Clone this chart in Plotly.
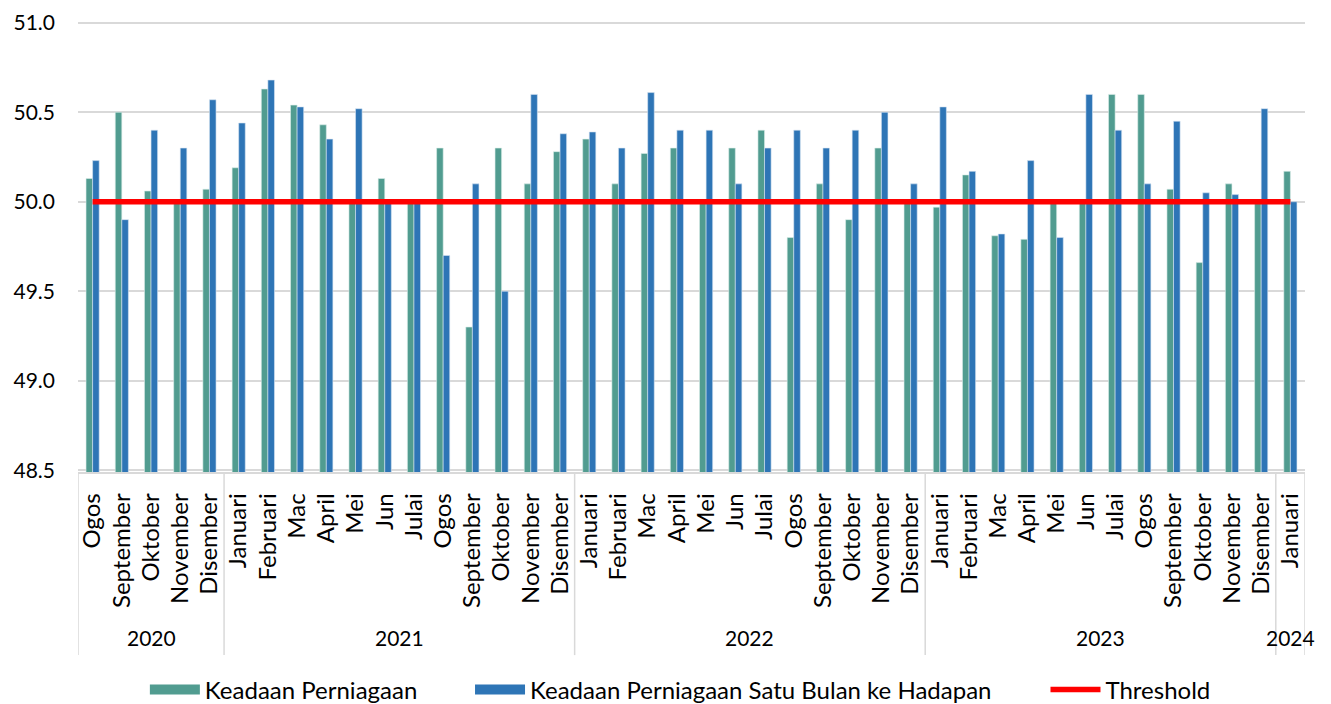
import plotly.graph_objects as go

years = (["2020"] * 5 + ["2021"] * 12 + ["2022"] * 12 + ["2023"] * 12 + ["2024"] * 1)
months = (
    ["Ogos", "September", "Oktober", "November", "Disember"]
    + ["Januari", "Februari", "Mac", "April", "Mei", "Jun", "Julai", "Ogos", "September", "Oktober", "November", "Disember"]
    + ["Januari", "Februari", "Mac", "April", "Mei", "Jun", "Julai", "Ogos", "September", "Oktober", "November", "Disember"]
    + ["Januari", "Februari", "Mac", "April", "Mei", "Jun", "Julai", "Ogos", "September", "Oktober", "November", "Disember"]
    + ["Januari"]
)

keadaan_perniagaan = [
    50.13, 50.50, 50.06, 50.00, 50.07,
    50.19, 50.63, 50.54, 50.43, 50.00, 50.13, 50.00, 50.30, 49.30, 50.30, 50.10, 50.28,
    50.35, 50.10, 50.27, 50.30, 50.00, 50.30, 50.40, 49.80, 50.10, 49.90, 50.30, 50.00,
    49.97, 50.15, 49.81, 49.79, 50.00, 50.00, 50.60, 50.60, 50.07, 49.66, 50.10, 50.00,
    50.17,
]
satu_bulan_hadapan = [
    50.23, 49.90, 50.40, 50.30, 50.57,
    50.44, 50.68, 50.53, 50.35, 50.52, 50.00, 50.00, 49.70, 50.10, 49.50, 50.60, 50.38,
    50.39, 50.30, 50.61, 50.40, 50.40, 50.10, 50.30, 50.40, 50.30, 50.40, 50.50, 50.10,
    50.53, 50.17, 49.82, 50.23, 49.80, 50.60, 50.40, 50.10, 50.45, 50.05, 50.04, 50.52,
    50.00,
]
threshold = [50.0] * len(months)

ytick_vals = [48.5, 49.0, 49.5, 50.0, 50.5, 51.0]

GREEN = "#519C90"
BLUE = "#2E75B6"
RED = "#FF0000"
GRID = "#d9d9d9"
FONT = "Lato"

n = len(months)
pos = list(range(n))

fig = go.Figure()
fig.add_trace(go.Bar(x=pos, y=keadaan_perniagaan, name="Keadaan Perniagaan", showlegend=False,
                     marker=dict(color=GREEN, line=dict(width=0.6, color="#dbeeea"))))
fig.add_trace(go.Bar(x=pos, y=satu_bulan_hadapan, name="Keadaan Perniagaan Satu Bulan ke Hadapan",
                     showlegend=False,
                     marker=dict(color=BLUE, line=dict(width=0.6, color="#d6e4f2"))))
fig.add_trace(go.Scatter(x=pos, y=threshold, name="Threshold", mode="lines", showlegend=False,
                         line=dict(color=RED, width=5.5)))

# legend entries with wide swatches, as in the reference
fig.add_trace(go.Scatter(x=[None], y=[None], mode="lines", name="Keadaan Perniagaan",
                         line=dict(color=GREEN, width=14), hoverinfo="skip", legend="legend"))
fig.add_trace(go.Scatter(x=[None], y=[None], mode="lines",
                         name="Keadaan Perniagaan Satu Bulan ke Hadapan",
                         line=dict(color=BLUE, width=14), hoverinfo="skip", legend="legend2"))
fig.add_trace(go.Scatter(x=[None], y=[None], mode="lines", name="Threshold",
                         line=dict(color=RED, width=5.5), hoverinfo="skip", legend="legend3"))

# year group labels and dividers below the month labels
boundaries = [-0.5] + [i - 0.5 for i in range(1, n) if years[i] != years[i - 1]] + [n - 0.5]
for b in boundaries:
    fig.add_shape(type="line", xref="x", yref="paper", x0=b, x1=b, y0=0, y1=-0.406,
                  line=dict(color=GRID, width=1.5))
seen_years = []
for yv in years:
    if yv not in seen_years:
        seen_years.append(yv)
for yv in seen_years:
    idx = [i for i in pos if years[i] == yv]
    fig.add_annotation(x=sum(idx) / len(idx), xref="x", y=-0.366, yref="paper",
                       text=yv, showarrow=False, yanchor="middle", xanchor="center",
                       font=dict(size=21, family=FONT, color="#000000"))

legend_common = dict(orientation="h", y=-0.483, yanchor="middle", xanchor="left",
                     font=dict(size=24, family=FONT, color="#000000"), itemwidth=50,
                     bgcolor="rgba(0,0,0,0)")

fig.update_layout(
    width=1315, height=696,
    margin=dict(l=70, r=18, t=13, b=232, autoexpand=False),
    paper_bgcolor="white", plot_bgcolor="white",
    barmode="group", bargap=0.55, bargroupgap=0,
    font=dict(family=FONT, size=21, color="#000000"),
    showlegend=True,
    legend=dict(x=0.0545, **legend_common),
    legend2=dict(x=0.3195, **legend_common),
    legend3=dict(x=0.7885, **legend_common),
    xaxis=dict(range=[-0.5, n - 0.5], tickmode="array", tickvals=pos, ticktext=months,
               tickangle=-90, showgrid=False,
               showline=True, linecolor=GRID, linewidth=1.5,
               ticks="", ticklabelstandoff=10, tickfont=dict(size=24), automargin=False),
    yaxis=dict(range=[48.49, 51.01], tickvals=ytick_vals, tickformat=".1f",
               showgrid=True, gridcolor=GRID, gridwidth=1.5,
               zeroline=False, showline=False, ticks="", ticklabelstandoff=22,
               ticklabeloverflow="allow",
               tickfont=dict(size=21), automargin=False),
)

fig.write_html("out.html")
